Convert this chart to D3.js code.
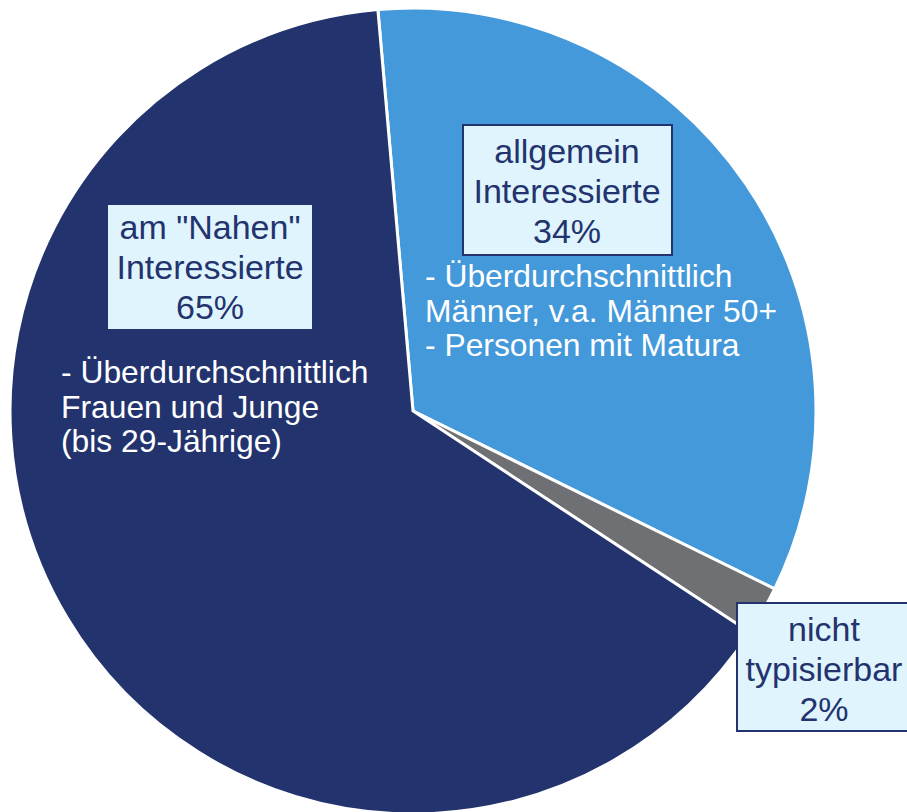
<!DOCTYPE html>
<html>
<head>
<meta charset="UTF-8">
<title>Interessentypen</title>
<style>
body { margin: 0; background: #fff; }
svg { display: block; font-family: "Liberation Sans", Arial, sans-serif; }
</style>
</head>
<body>
<svg width="907" height="812"></svg>
<script src="https://d3js.org/d3.v7.min.js"></script>
<script>
// slices, clockwise from just left of 12 o'clock
var categories = ["allgemein", "nicht", "nahen"];
var values = [34, 2, 65];
var colors = ["#4499da", "#6f7073", "#22336e"];

// box labels (one line per entry)
var boxLines = [
  ["allgemein", "Interessierte", "34%"],
  ["nicht", "typisierbar", "2%"],
  ["am \"Nahen\"", "Interessierte", "65%"]
];

// white description text inside the slices
var notes = [
  ["- Überdurchschnittlich", "Männer, v.a. Männer 50+", "- Personen mit Matura"],
  [],
  ["- Überdurchschnittlich", "Frauen und Junge", "(bis 29-Jährige)"]
];

var cx = 413, cy = 411, radius = 403;
var svg = d3.select("svg");

var pie = d3.pie()
    .sort(null)
    .value(function(d) { return d; })
    .startAngle(-5 * Math.PI / 180)
    .endAngle(355 * Math.PI / 180);

var arc = d3.arc().innerRadius(0).outerRadius(radius);

var g = svg.append("g")
    .attr("transform", "translate(" + cx + "," + cy + ")");

g.selectAll("path")
    .data(pie(values))
  .enter().append("path")
    .attr("d", arc)
    .attr("fill", function(d, i) { return colors[i]; })
    .attr("stroke", "#fff")
    .attr("stroke-width", 3)
    .attr("stroke-linejoin", "miter");

// label boxes: [x, y, w, h, text centre x, first baseline]
var boxes = [
  {x: 463, y: 125, w: 209, h: 130, tx: 567, ty: 163},
  {x: 737, y: 603, w: 180, h: 128, tx: 824, ty: 641},
  {x: 107, y: 204, w: 206, h: 126, tx: 210, ty: 239}
];
var boxLineH = 40;

boxes.forEach(function(b, i) {
  svg.append("rect")
      .attr("x", b.x).attr("y", b.y)
      .attr("width", b.w).attr("height", b.h)
      .attr("fill", "#dff4fd")
      .attr("stroke", "#22336e")
      .attr("stroke-width", 2);
  var t = svg.append("text")
      .attr("text-anchor", "middle")
      .attr("font-size", 34)
      .attr("fill", "#22336e");
  boxLines[i].forEach(function(line, j) {
    t.append("tspan")
        .attr("x", b.tx)
        .attr("y", b.ty + j * boxLineH)
        .text(line);
  });
});

// description text positions: [left x, first baseline]
var notePos = [[425, 287], null, [61, 383]];
var noteLineH = 34.5;

notes.forEach(function(lines, i) {
  if (!lines.length) return;
  var t = svg.append("text")
      .attr("font-size", 31.8)
      .attr("fill", "#fff");
  lines.forEach(function(line, j) {
    t.append("tspan")
        .attr("x", notePos[i][0])
        .attr("y", notePos[i][1] + j * noteLineH)
        .text(line);
  });
});
</script>
</body>
</html>
